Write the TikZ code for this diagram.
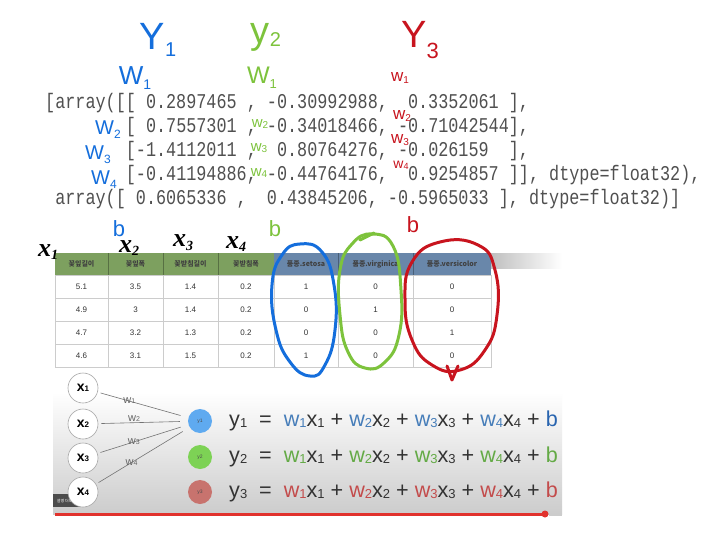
\documentclass[tikz,border=0pt]{standalone}
\usepackage{fontspec}
\setmainfont{Liberation Sans}
\newfontfamily\codefont[FakeStretch=0.80]{Liberation Mono}
\newfontfamily\krfont{Noto Sans CJK KR}
\newfontfamily\handx{Liberation Serif}
\usetikzlibrary{positioning}
\definecolor{penblue}{RGB}{20,110,220}
\definecolor{pengreen}{RGB}{125,195,60}
\definecolor{penred}{RGB}{200,20,30}
\definecolor{codegray}{RGB}{80,80,80}
\definecolor{hdgreen}{RGB}{125,160,95}
\definecolor{hdblue}{RGB}{105,135,170}
\definecolor{eqblue}{RGB}{70,125,185}
\definecolor{eqbluedk}{RGB}{40,100,175}
\definecolor{eqgreen}{RGB}{100,170,70}
\definecolor{eqred}{RGB}{195,75,75}
\definecolor{nodeblue}{RGB}{95,170,240}
\definecolor{nodegreen}{RGB}{125,210,85}
\definecolor{nodered}{RGB}{200,115,110}
\definecolor{barred}{RGB}{225,50,45}
\newcommand{\dsub}[1]{\raisebox{-1pt}{\fontsize{13}{13}\selectfont #1}}
\newcommand{\wx}[2]{{\color{#1}w\dsub{#2}}x\dsub{#2}}
\newcommand{\eqline}[3]{y\dsub{#3}\ \ =\ \ \wx{#1}{1}\ +\ \wx{#1}{2}\ +\ \wx{#1}{3}\ +\ \wx{#1}{4}\ +\ {\color{#2}b}}
\begin{document}
\begin{tikzpicture}[x=1pt,y=-1pt,>=stealth,
	pen/.style={inner sep=0pt,font=\fontsize{#1}{#1}\selectfont},
	penx/.style={inner sep=0pt,black,font=\handx\bfseries\itshape\fontsize{26}{26}\selectfont},
	code/.style={anchor=base west,inner sep=0pt,text=codegray,font=\codefont\fontsize{21}{24}\selectfont},
	hd/.style={inner sep=0pt,font=\krfont\bfseries\fontsize{7}{7}\selectfont,text=black!75},
	cell/.style={inner sep=0pt,font=\fontsize{8}{8}\selectfont,text=black!80},
	loop/.style={line width=3pt,line cap=round,line join=round},
	xin/.style={circle,draw=black!35,fill=white,line width=0.6pt,minimum size=30pt,inner sep=0pt,font=\fontsize{14}{14}\selectfont\bfseries},
	yout/.style={circle,minimum size=24pt,inner sep=0pt,font=\fontsize{5}{5}\selectfont,text=black!70},
	wline/.style={black!55,line width=0.6pt,shorten <=3pt,shorten >=8pt},
	wlab/.style={inner sep=0pt,font=\fontsize{11}{11}\selectfont,text=black!60},
	eq/.style={anchor=west,inner sep=0pt,text=black!80,font=\fontsize{21.6}{21.6}\selectfont}]
	\useasboundingbox (0,0) rectangle (718,538);
	\fill[white] (0,0) rectangle (718,538);
	% printed weights
	\node[code] (l1) at (45,108) {[array([[~0.2897465~,~-0.30992988,~~0.3352061~],};
	\node[code] (l2) at (45,132) {~~~~~~~~[~0.7557301~,~-0.34018466,~-0.71042544],};
	\node[code] (l3) at (45,156) {~~~~~~~~[-1.4112011~,~~0.80764276,~-0.026159~~],};
	\node[code] (l4) at (45,180) {~~~~~~~~[-0.41194886,~-0.44764176,~~0.9254857~]],~dtype=float32),};
	\node[code] (l5) at (45,204) {~array([~0.6065336~,~~0.43845206,~-0.5965033~],~dtype=float32)]};
	% table
	\fill[hdgreen] (55,253) rectangle (274,275);
	\fill[hdblue] (274,253) rectangle (491,275);
	\shade[left color=black!25,right color=white] (491,253) rectangle (562,268);
	\draw[black!20,line width=0.5pt] (55,275) rectangle (491,367);
	\foreach \yy in {298,321,344} \draw[black!20,line width=0.5pt] (55,\yy)--(491,\yy);
	\foreach \xx in {108,163,218,274,338,413} \draw[black!20,line width=0.5pt] (\xx,275)--(\xx,367);
	\foreach \xx in {108,163,218} \draw[black!30!hdgreen,line width=0.5pt] (\xx,253)--(\xx,275);
	\foreach \xx in {338,413} \draw[black!30!hdblue,line width=0.5pt] (\xx,253)--(\xx,275);
	\foreach \cx/\t [count=\i] in {81.5/꽃잎길이,135.5/꽃잎폭,190.5/꽃받침길이,246/꽃받침폭,306/품종.setosa,375.5/품종.virginica,452/품종.versicolor}
		\node[hd] (h\i) at (\cx,264) {\t};
	\foreach \cx/\v [count=\i] in {81.5/5.1,135.5/3.5,190.5/1.4,246/0.2,306/1,375.5/0,452/0}
		\node[cell] (a\i) at (\cx,286.5) {\v};
	\foreach \cx/\v [count=\i] in {81.5/4.9,135.5/3,190.5/1.4,246/0.2,306/0,375.5/1,452/0}
		\node[cell] (b\i) at (\cx,309.5) {\v};
	\foreach \cx/\v [count=\i] in {81.5/4.7,135.5/3.2,190.5/1.3,246/0.2,306/0,375.5/0,452/1}
		\node[cell] (c\i) at (\cx,332.5) {\v};
	\foreach \cx/\v [count=\i] in {81.5/4.6,135.5/3.1,190.5/1.5,246/0.2,306/1,375.5/0,452/0}
		\node[cell] (d\i) at (\cx,355.5) {\v};
	% lower panel
	\shade[top color=white,bottom color=black!20] (53,392) rectangle (562,514);
	\draw[barred,line width=3pt] (55,514)--(545,514);
	\fill[barred] (545,514) circle (3.5);
	\draw[black!20,line width=3pt] (549,514)--(562,514);
	\node[fill=black!70,text=white!85,font=\krfont\fontsize{4}{4}\selectfont,minimum width=27pt,minimum height=13pt,inner sep=0pt] (more) at (66.5,500.5) {설명 더보기};
	% network
	\node[xin] (x1) at (83,388) {x{\fontsize{8}{8}\selectfont 1}};
	\node[xin] (x2) at (83,424) {x{\fontsize{8}{8}\selectfont 2}};
	\node[xin] (x3) at (83,458) {x{\fontsize{8}{8}\selectfont 3}};
	\node[xin] (x4) at (83,492) {x{\fontsize{8}{8}\selectfont 4}};
	\node[yout,fill=nodeblue] (y1) at (200,421) {y1};
	\node[yout,fill=nodegreen] (y2) at (200,457) {y2};
	\node[yout,fill=nodered] (y3) at (200,492) {y3};
	\draw[wline] (x1)--(y1) node[wlab,pos=0.35,above=-3pt]{w{\fontsize{7}{7}\selectfont 1}};
	\draw[wline] (x2)--(y1) node[wlab,pos=0.4,above=1pt]{w{\fontsize{7}{7}\selectfont 2}};
	\draw[wline] (x3)--(y1) node[wlab,pos=0.4]{w{\fontsize{7}{7}\selectfont 3}};
	\draw[wline] (x4)--(y1) node[wlab,pos=0.38]{w{\fontsize{7}{7}\selectfont 4}};
	\node[eq] (e1) at (229,421) {\eqline{eqblue}{eqbluedk}{1}};
	\node[eq] (e2) at (229,457) {\eqline{eqgreen}{eqgreen}{2}};
	\node[eq] (e3) at (229,492) {\eqline{eqred}{eqred}{3}};
	% pen marks
	\node[pen=38,penblue] (Y1) at (158,40) {Y\raisebox{-0.2em}{\fontsize{20}{20}\selectfont 1}};
	\node[pen=38,pengreen] (Y2) at (266,37) {y\raisebox{-0.1em}{\fontsize{20}{20}\selectfont 2}};
	\node[pen=38,penred] (Y3) at (420,40) {Y\raisebox{-0.3em}{\fontsize{22}{22}\selectfont 3}};
	\node[pen=26,penblue] (bw1) at (135,78) {W\raisebox{-0.2em}{\fontsize{14}{14}\selectfont 1}};
	\node[pen=20,penblue] (bw2) at (108,130) {W\raisebox{-0.2em}{\fontsize{12}{12}\selectfont 2}};
	\node[pen=20,penblue] (bw3) at (98,155) {W\raisebox{-0.2em}{\fontsize{12}{12}\selectfont 3}};
	\node[pen=20,penblue] (bw4) at (104,180) {W\raisebox{-0.2em}{\fontsize{12}{12}\selectfont 4}};
	\node[pen=24,pengreen] (gw1) at (262,78) {W\raisebox{-0.2em}{\fontsize{13}{13}\selectfont 1}};
	\node[pen=15,pengreen] (gw2) at (260,124) {w\raisebox{-0.1em}{\fontsize{10}{10}\selectfont 2}};
	\node[pen=15,pengreen] (gw3) at (259,148) {w\raisebox{-0.1em}{\fontsize{10}{10}\selectfont 3}};
	\node[pen=15,pengreen] (gw4) at (259,173) {w\raisebox{-0.1em}{\fontsize{10}{10}\selectfont 4}};
	\node[pen=17,penred] (rw1) at (400,78) {w\raisebox{-0.1em}{\fontsize{10}{10}\selectfont 1}};
	\node[pen=17,penred] (rw2) at (402,116) {w\raisebox{-0.1em}{\fontsize{10}{10}\selectfont 2}};
	\node[pen=17,penred] (rw3) at (400,140) {w\raisebox{-0.1em}{\fontsize{10}{10}\selectfont 3}};
	\node[pen=14,penred] (rw4) at (401,165) {w\raisebox{-0.1em}{\fontsize{9}{9}\selectfont 4}};
	\node[pen=22,penblue] (bb) at (119,229) {b};
	\node[pen=22,pengreen] (gb) at (275,229) {b};
	\node[pen=22,penred] (rb) at (413,225) {b};
	\node[penx] (hx1) at (48,252) {x\raisebox{-0.15em}{\fontsize{14}{14}\selectfont 1}};
	\node[penx] (hx2) at (129,248) {x\raisebox{-0.15em}{\fontsize{14}{14}\selectfont 2}};
	\node[penx] (hx3) at (183,243) {x\raisebox{-0.15em}{\fontsize{14}{14}\selectfont 3}};
	\node[penx] (hx4) at (236,244) {x\raisebox{-0.15em}{\fontsize{14}{14}\selectfont 4}};
	\draw[loop,penblue] plot[smooth cycle,tension=0.8] coordinates {(300,244) (322,252) (334,285) (335,330) (325,365) (310,376) (290,362) (276,330) (272,285) (282,255)};
	\draw[loop,pengreen] plot[smooth cycle,tension=0.8] coordinates {(372,234) (393,246) (401,290) (399,335) (385,362) (365,368) (348,352) (340,315) (340,270) (352,244)};
	\draw[loop,pengreen] (360,240)--(374,233);
	\draw[loop,penred] plot[smooth cycle,tension=0.8] coordinates {(440,242) (478,245) (495,270) (497,315) (485,350) (460,370) (432,365) (412,340) (405,300) (412,262)};
	\draw[loop,penred] (447,366)--(452,380)--(458,366);
\end{tikzpicture}
\end{document}
